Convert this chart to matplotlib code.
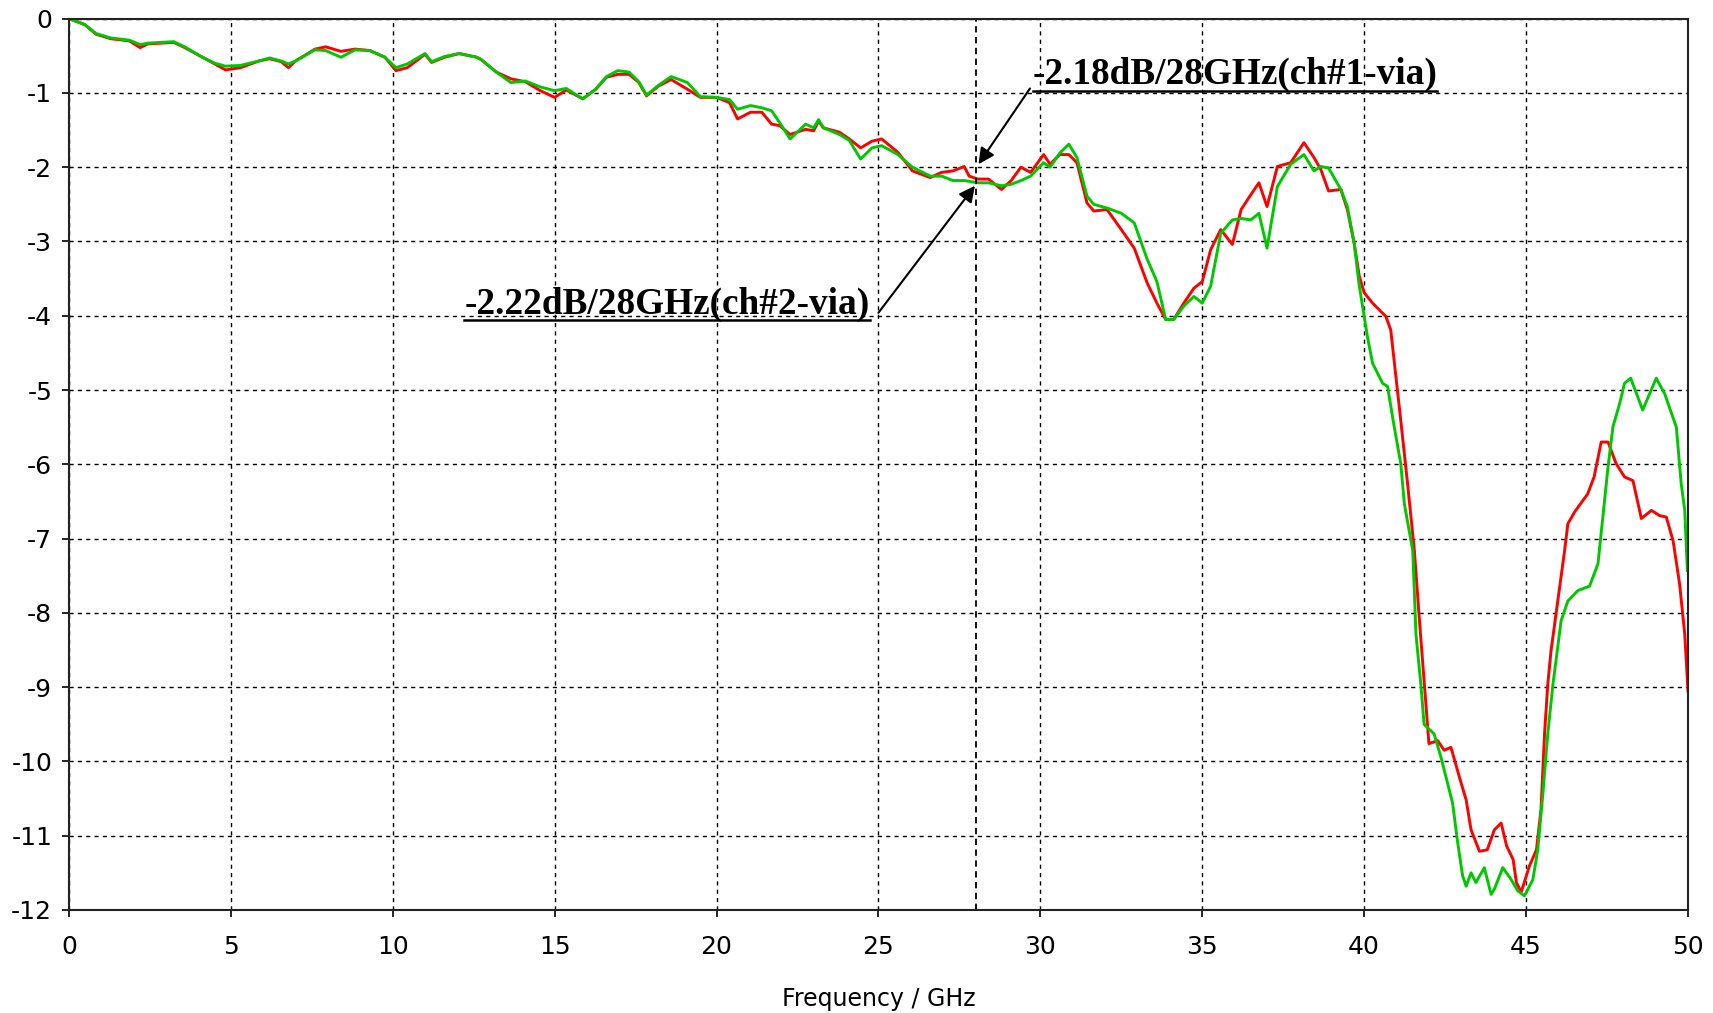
import matplotlib
matplotlib.use("Agg")
import matplotlib.pyplot as plt

plt.rcParams['axes.unicode_minus'] = False
plt.rcParams['font.family'] = ['DejaVu Sans']

## datos (GHz, dB)
freq_ch1 = [0, 0.49, 0.84, 1.29, 1.87, 2.2, 2.44, 3.24, 3.58, 4.04, 4.5, 4.84, 5.3, 5.87, 6.2, 6.56,
            6.78, 7.0, 7.6, 7.93, 8.4, 8.84, 9.3, 9.76, 10.1, 10.45, 11.0, 11.2, 11.6, 12.05, 12.6,
            12.73, 13.2, 13.65, 14.1, 14.56, 15.0, 15.36, 15.87, 16.27, 16.6, 16.95, 17.3, 17.6,
            17.84, 18.2, 18.6, 19.1, 19.5, 20.0, 20.4, 20.65, 21.05, 21.4, 21.7, 21.95, 22.27,
            22.75, 23.0, 23.15, 23.3, 23.8, 24.1, 24.45, 24.8, 25.1, 25.6, 26.05, 26.6, 26.95,
            27.3, 27.65, 27.8, 28.07, 28.4, 28.8, 29.1, 29.4, 29.7, 30.1, 30.3, 30.6, 30.88,
            31.13, 31.44, 31.65, 32.06, 32.5, 32.9, 33.3, 33.6, 33.87, 34.12, 34.43, 34.74, 35.0,
            35.26, 35.57, 35.93, 36.2, 36.5, 36.75, 37.0, 37.32, 37.73, 38.14, 38.45, 38.66,
            38.9, 39.28, 39.48, 39.69, 39.85, 40.0, 40.26, 40.67, 40.82, 40.98, 41.13, 41.34,
            41.55, 41.7, 41.86, 42.0, 42.27, 42.47, 42.68, 42.94, 43.15, 43.3, 43.56, 43.8,
            44.02, 44.23, 44.4, 44.6, 44.7, 44.85, 45.1, 45.32, 45.46, 45.57, 45.67, 45.77,
            45.98, 46.19, 46.29, 46.5, 46.9, 47.1, 47.32, 47.53, 47.78, 48.04, 48.3, 48.56,
            48.87, 49.12, 49.33, 49.54, 49.74, 49.9, 50.0]
s21_ch1 = [0, -0.08, -0.21, -0.27, -0.30, -0.39, -0.34, -0.32, -0.39, -0.50, -0.61, -0.69, -0.66,
           -0.57, -0.54, -0.58, -0.66, -0.57, -0.41, -0.38, -0.44, -0.41, -0.43, -0.52, -0.70,
           -0.66, -0.48, -0.59, -0.52, -0.47, -0.52, -0.55, -0.72, -0.81, -0.85, -0.97, -1.06,
           -0.96, -1.08, -0.95, -0.79, -0.75, -0.75, -0.86, -1.04, -0.91, -0.82, -0.95, -1.06,
           -1.06, -1.13, -1.35, -1.26, -1.26, -1.42, -1.44, -1.56, -1.49, -1.51, -1.38, -1.47,
           -1.53, -1.62, -1.74, -1.65, -1.62, -1.80, -2.05, -2.14, -2.07, -2.05, -1.99, -2.12,
           -2.16, -2.16, -2.30, -2.18, -2.00, -2.07, -1.83, -1.96, -1.83, -1.83, -1.94, -2.48,
           -2.59, -2.57, -2.84, -3.09, -3.56, -3.83, -4.05, -4.05, -3.83, -3.63, -3.54, -3.11,
           -2.84, -3.04, -2.57, -2.37, -2.21, -2.53, -1.99, -1.94, -1.67, -1.87, -2.03, -2.32,
           -2.30, -2.57, -3.02, -3.47, -3.69, -3.83, -4.01, -4.19, -4.82, -5.41, -6.26, -7.16,
           -8.06, -8.96, -9.76, -9.72, -9.85, -9.81, -10.21, -10.52, -10.92, -11.21, -11.19,
           -10.92, -10.83, -11.14, -11.32, -11.63, -11.76, -11.41, -11.19, -10.65, -9.63, -8.96,
           -8.51, -7.84, -7.16, -6.80, -6.64, -6.40, -6.17, -5.70, -5.70, -5.99, -6.17, -6.22,
           -6.73, -6.62, -6.69, -6.71, -7.03, -7.61, -8.29, -9.05]

freq_ch2 = [0, 0.49, 0.84, 1.29, 1.87, 2.2, 2.44, 3.24, 3.58, 4.04, 4.5, 4.84, 5.3, 5.87, 6.2, 6.56,
            6.78, 7.0, 7.6, 7.93, 8.4, 8.84, 9.3, 9.76, 10.1, 10.45, 11.0, 11.2, 11.6, 12.05, 12.6,
            12.73, 13.2, 13.65, 14.1, 14.56, 15.0, 15.36, 15.87, 16.27, 16.6, 16.95, 17.3, 17.6,
            17.84, 18.2, 18.6, 19.1, 19.5, 20.0, 20.4, 20.65, 21.05, 21.4, 21.7, 21.95, 22.27,
            22.75, 23.0, 23.15, 23.3, 23.8, 24.1, 24.45, 24.8, 25.1, 25.6, 26.05, 26.6, 26.95,
            27.3, 27.65, 28.07, 28.4, 28.8, 29.1, 29.4, 29.7, 30.1, 30.3, 30.6, 30.88, 31.13,
            31.44, 31.65, 32.06, 32.5, 32.9, 33.3, 33.6, 33.87, 34.12, 34.43, 34.74, 35.0, 35.26,
            35.57, 35.93, 36.2, 36.5, 36.75, 37.0, 37.32, 37.73, 38.14, 38.45, 38.66, 38.9,
            39.28, 39.48, 39.69, 39.85, 40.1, 40.26, 40.57, 40.72, 40.93, 41.13, 41.24, 41.5,
            41.6, 41.75, 41.85, 42.16, 42.37, 42.58, 42.73, 42.89, 43.04, 43.15, 43.3, 43.45,
            43.71, 43.92, 44.02, 44.28, 44.54, 44.74, 44.95, 45.21, 45.36, 45.52, 45.67, 45.83,
            46.08, 46.29, 46.6, 46.96, 47.22, 47.37, 47.53, 47.68, 47.89, 48.04, 48.23, 48.6,
            49.02, 49.28, 49.64, 49.79, 49.9, 49.98]
s21_ch2 = [0, -0.08, -0.20, -0.26, -0.29, -0.35, -0.33, -0.31, -0.38, -0.50, -0.60, -0.64, -0.63,
           -0.57, -0.53, -0.57, -0.61, -0.57, -0.42, -0.43, -0.52, -0.42, -0.43, -0.52, -0.66,
           -0.61, -0.47, -0.58, -0.51, -0.47, -0.52, -0.55, -0.72, -0.86, -0.84, -0.92, -0.97,
           -0.94, -1.08, -0.95, -0.78, -0.70, -0.72, -0.85, -1.03, -0.90, -0.78, -0.86, -1.05,
           -1.06, -1.09, -1.22, -1.17, -1.20, -1.24, -1.40, -1.62, -1.42, -1.47, -1.36, -1.47,
           -1.56, -1.64, -1.89, -1.74, -1.71, -1.83, -2.00, -2.12, -2.12, -2.18, -2.18, -2.21,
           -2.21, -2.25, -2.23, -2.18, -2.12, -1.94, -2.00, -1.81, -1.69, -1.87, -2.39, -2.50,
           -2.55, -2.62, -2.75, -3.24, -3.54, -4.05, -4.05, -3.87, -3.74, -3.83, -3.60, -2.89,
           -2.71, -2.69, -2.71, -2.62, -3.09, -2.26, -1.96, -1.83, -2.05, -1.99, -2.01, -2.30,
           -2.53, -3.02, -3.60, -4.28, -4.64, -4.91, -4.95, -5.50, -5.99, -6.53, -7.16, -8.29,
           -8.96, -9.50, -9.63, -9.94, -10.30, -10.56, -11.10, -11.54, -11.68, -11.50, -11.63,
           -11.43, -11.79, -11.72, -11.43, -11.59, -11.74, -11.81, -11.59, -11.19, -10.43,
           -9.63, -8.96, -8.11, -7.84, -7.70, -7.64, -7.34, -6.71, -6.04, -5.50, -5.18, -4.91,
           -4.84, -5.27, -4.84, -5.05, -5.50, -6.26, -6.62, -7.43]

label_ch1 = "-2.18dB/28GHz(ch#1-via)"
label_ch2 = "-2.22dB/28GHz(ch#2-via)"
marker_freq = 28

fig = plt.figure(figsize=(17.13, 10.13), dpi=100)
ax = fig.add_axes([0.0402, 0.1017, 0.9452, 0.8799])

ax.plot(freq_ch1, s21_ch1, color="#ff0000", lw=2.1)
ax.plot(freq_ch2, s21_ch2, color="#00c800", lw=2.1)

ax.set_xlim(0, 50)
ax.set_ylim(-12, 0)
ax.set_xticks(range(0, 51, 5))
ax.set_yticks(range(-12, 1))
ax.grid(True, color="black", linestyle=(0, (3, 3)), lw=1.0)
ax.axvline(marker_freq, color="black", linestyle=(0, (3.5, 2.5)), lw=1.3)
ax.tick_params(direction="out", length=5, width=1.2, labelsize=18, pad=7)
ax.tick_params(axis="x", pad=13)
for s in ax.spines.values():
    s.set_linewidth(1.5)
    s.set_color("#222222")
ax.set_xlabel("Frequency / GHz", fontsize=17, labelpad=20)

## anotaciones con subrayado
tfont = dict(family="Liberation Serif", weight="bold", size=26.8)
t1 = ax.text(29.76, -0.88, label_ch1, va="baseline", fontdict=tfont)
t2 = ax.text(12.21, -3.97, label_ch2, va="baseline", fontdict=tfont)
fig.canvas.draw()
inv = ax.transData.inverted()
for t, yu in [(t1, -0.97), (t2, -4.06)]:
    bb = t.get_window_extent()
    x0 = inv.transform((bb.x0, bb.y0))[0]
    x1 = inv.transform((bb.x1, bb.y0))[0]
    ax.plot([x0, x1], [yu, yu], color="black", lw=1.8, clip_on=False)

arr = dict(arrowstyle="-|>", color="black", lw=1.5, mutation_scale=24, shrinkA=0, shrinkB=0)
ax.annotate("", xy=(28.09, -1.96), xytext=(29.68, -0.94), arrowprops=arr)
ax.annotate("", xy=(27.98, -2.25), xytext=(25.0, -3.96), arrowprops=arr)

fig.savefig("out.png", dpi=100)
